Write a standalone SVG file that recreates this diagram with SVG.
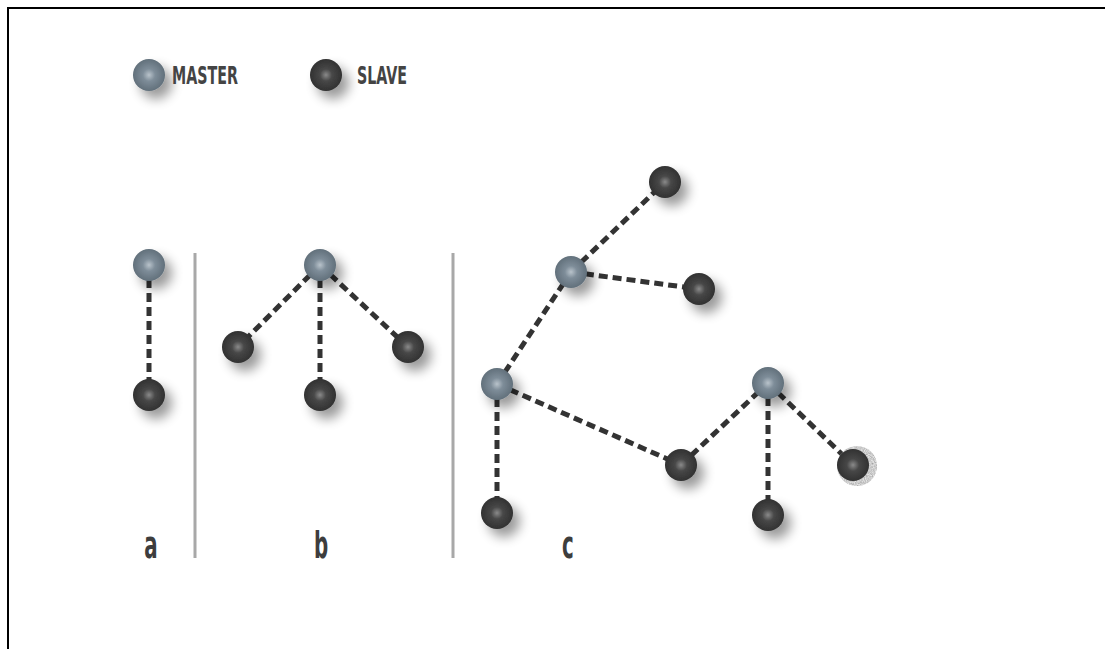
<svg xmlns="http://www.w3.org/2000/svg" width="1105" height="649" viewBox="0 0 1105 649">
  <defs>
    <radialGradient id="gMaster" cx="50%" cy="50%" r="55%">
      <stop offset="0" stop-color="#b9c3cb"/>
      <stop offset="0.35" stop-color="#7e8d99"/>
      <stop offset="1" stop-color="#5d6b76"/>
    </radialGradient>
    <radialGradient id="gSlave" cx="50%" cy="50%" r="55%">
      <stop offset="0" stop-color="#8a8a8a"/>
      <stop offset="0.35" stop-color="#474747"/>
      <stop offset="1" stop-color="#2e2e2e"/>
    </radialGradient>
    <filter id="shadow" x="-80%" y="-80%" width="280%" height="280%">
      <feGaussianBlur in="SourceAlpha" stdDeviation="6"/>
      <feOffset dx="7" dy="8" result="b"/>
      <feComponentTransfer><feFuncA type="linear" slope="0.4"/></feComponentTransfer>
      <feMerge><feMergeNode/><feMergeNode in="SourceGraphic"/></feMerge>
    </filter>
    <filter id="speckle" x="-50%" y="-50%" width="200%" height="200%">
      <feTurbulence type="fractalNoise" baseFrequency="0.9" numOctaves="2" result="n"/>
      <feComposite in="SourceGraphic" in2="n" operator="in"/>
    </filter>
  </defs>
  <style>
    .frame { fill: none; stroke: #000; stroke-width: 2; }
    .link { stroke: #333; stroke-width: 5; stroke-dasharray: 9 5; fill: none; }
    .divider { stroke: #a8a8a8; stroke-width: 3; }
    .master { fill: url(#gMaster); filter: url(#shadow); }
    .slave { fill: url(#gSlave); filter: url(#shadow); }
    .legend { font-family: "DejaVu Sans Condensed", "Liberation Sans Narrow", "Liberation Sans", sans-serif; font-weight: bold; font-size: 24px; fill: #444; }
    .tag { font-family: "DejaVu Sans Condensed", "Liberation Sans Narrow", "Liberation Sans", sans-serif; font-weight: bold; font-size: 38px; fill: #3d3d3d; text-anchor: middle; }
  </style>

  <rect width="1105" height="649" fill="#fff"/>
  <path class="frame" d="M8 649 V8 H1105"/>

  <!-- legend -->
  <g id="legend-master">
    <circle class="master" cx="149" cy="75" r="16"/>
    <text class="legend" transform="translate(172 84) scale(0.66 1)">MASTER</text>
  </g>
  <g id="legend-slave">
    <circle class="slave" cx="326" cy="75" r="16"/>
    <text class="legend" transform="translate(357 84) scale(0.66 1)">SLAVE</text>
  </g>

  <!-- dividers -->
  <line class="divider" x1="195" y1="253" x2="195" y2="558"/>
  <line class="divider" x1="453" y1="253" x2="453" y2="558"/>

  <!-- connectors -->
  <g id="connectors">
    <line class="link" x1="149" y1="265" x2="149" y2="395"/>
    <line class="link" x1="320" y1="265" x2="238" y2="347"/>
    <line class="link" x1="320" y1="265" x2="320" y2="395"/>
    <line class="link" x1="320" y1="265" x2="408" y2="347"/>
    <line class="link" x1="571" y1="272" x2="665" y2="182"/>
    <line class="link" x1="571" y1="272" x2="699" y2="289"/>
    <line class="link" x1="497" y1="384" x2="571" y2="272"/>
    <line class="link" x1="497" y1="384" x2="497" y2="513"/>
    <line class="link" x1="497" y1="384" x2="681" y2="465"/>
    <line class="link" x1="681" y1="465" x2="768" y2="383"/>
    <line class="link" x1="768" y1="383" x2="768" y2="515"/>
    <line class="link" x1="768" y1="383" x2="853" y2="465"/>
  </g>

  <!-- group a -->
  <g id="a-master"><circle class="master" cx="149" cy="265" r="16"/></g>
  <g id="a-slave"><circle class="slave" cx="149" cy="395" r="16"/></g>

  <!-- group b -->
  <g id="b-master"><circle class="master" cx="320" cy="265" r="16"/></g>
  <g id="b-slave1"><circle class="slave" cx="238" cy="347" r="16"/></g>
  <g id="b-slave2"><circle class="slave" cx="320" cy="395" r="16"/></g>
  <g id="b-slave3"><circle class="slave" cx="408" cy="347" r="16"/></g>

  <!-- group c -->
  <g id="c-master1"><circle class="master" cx="571" cy="272" r="16"/></g>
  <g id="c-slave1"><circle class="slave" cx="665" cy="182" r="16"/></g>
  <g id="c-slave2"><circle class="slave" cx="699" cy="289" r="16"/></g>
  <g id="c-master2"><circle class="master" cx="497" cy="384" r="16"/></g>
  <g id="c-slave3"><circle class="slave" cx="497" cy="513" r="16"/></g>
  <g id="c-slave4"><circle class="slave" cx="681" cy="465" r="16"/></g>
  <g id="c-master3"><circle class="master" cx="768" cy="383" r="16"/></g>
  <g id="c-slave5"><circle class="slave" cx="768" cy="515" r="16"/></g>
  <g id="c-slave6">
    <circle cx="857" cy="466" r="20" fill="#9a9a9a" filter="url(#speckle)"/>
    <circle cx="853" cy="465" r="16" fill="url(#gSlave)"/>
  </g>

  <!-- labels -->
  <text class="tag" transform="translate(151 558) scale(0.58 1)">a</text>
  <text class="tag" transform="translate(321 558) scale(0.58 1)">b</text>
  <text class="tag" transform="translate(568 558) scale(0.58 1)">c</text>
</svg>
